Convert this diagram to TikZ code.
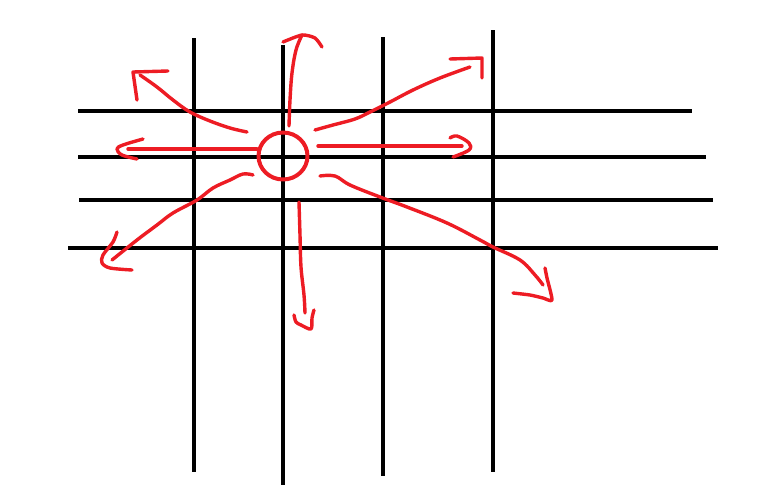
\documentclass[tikz,border=0pt]{standalone}
\usetikzlibrary{shapes.geometric}
\begin{document}
\begin{tikzpicture}[x=1pt,y=-1pt,
  gridline/.style={line width=4.2pt,black},
  redpen/.style={line width=3.4pt,draw={rgb,255:red,237;green,28;blue,36},line cap=round,line join=round}]
\useasboundingbox (0,0) rectangle (769,499);
% horizontal lines
\draw[gridline] (78,111) -- (692,111);
\draw[gridline] (78,157) -- (706,157);
\draw[gridline] (79,200) -- (713,200);
\draw[gridline] (68,248) -- (718,248);
% vertical lines
\draw[gridline] (194,38) -- (194,472);
\draw[gridline] (283,45) -- (283,485);
\draw[gridline] (383,37) -- (383,476);
\draw[gridline] (493,30) -- (493,472);
% centre circle
\node[redpen,line width=4pt,draw,ellipse,minimum width=49pt,minimum height=47pt,inner sep=0pt] (c) at (283,156) {};
% up-left
\draw[redpen] plot[smooth,tension=0.6] coordinates {(247,132) (230,128) (210,121) (190,112) (173,100) (157,87) (140,75)};
\draw[redpen] (168,71) -- (133,72) -- (137,100);
% left
\draw[redpen] (257,149) -- (128,149);
\draw[redpen] plot[smooth,tension=0.6] coordinates {(143,139) (123,145) (117,149) (122,155) (137,159)};
% down-left
\draw[redpen] plot[smooth,tension=0.6] coordinates {(253,175) (243,174) (230,180) (213,188) (197,200) (173,213) (157,225) (137,240) (112,260)};
\draw[redpen] plot[smooth,tension=0.5] coordinates {(117,232) (113,242) (103,255) (102,263) (110,268) (132,270)};
% up
\draw[redpen] plot[smooth,tension=0.6] coordinates {(289,126) (290,100) (292,73) (296,50) (302,35)};
\draw[redpen] plot[smooth,tension=0.4] coordinates {(283,42) (302,35) (315,38) (322,47)};
% up-right
\draw[redpen] plot[smooth,tension=0.6] coordinates {(315,130) (333,125) (355,119) (370,112) (390,102) (413,90) (440,78) (470,67)};
\draw[redpen] (450,59) -- (482,58) -- (482,78);
% right
\draw[redpen] (318,146) -- (462,146);
\draw[redpen] plot[smooth,tension=0.6] coordinates {(450,138) (457,136) (469,143) (469,150) (453,157)};
% down-right
\draw[redpen] plot[smooth,tension=0.6] coordinates {(320,176) (335,176) (350,185) (380,197) (407,207) (447,223) (480,240) (493,247) (520,260) (535,275) (543,285)};
\draw[redpen] plot[smooth,tension=0.4] coordinates {(545,268) (547,278) (552,300) (543,298) (530,295) (513,293)};
% down
\draw[redpen] plot[smooth,tension=0.6] coordinates {(299,202) (300,235) (301,267) (304,295) (305,313)};
\draw[redpen] plot[smooth,tension=0.5] coordinates {(294,315) (296,322) (301,325) (311,329) (312,318) (314,310)};
\end{tikzpicture}
\end{document}
